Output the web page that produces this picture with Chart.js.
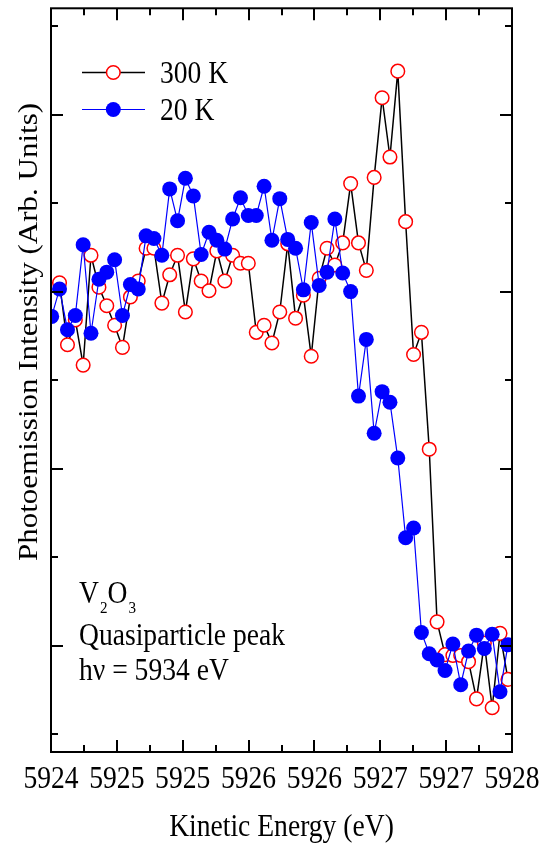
<!DOCTYPE html>
<html><head><meta charset="utf-8">
<script src="https://cdn.jsdelivr.net/npm/chart.js@4.4.1/dist/chart.umd.min.js"></script>
<style>html,body{margin:0;padding:0;background:#fff;overflow:hidden}</style>
</head><body>
<canvas id="c" width="543" height="848"></canvas>
<script>
// ---- data ----
const energy = [
  5924.006, 5924.074, 5924.143, 5924.211, 5924.279, 5924.347, 5924.416, 5924.484, 5924.552, 5924.620,
  5924.689, 5924.757, 5924.825, 5924.893, 5924.962, 5925.030, 5925.098, 5925.166, 5925.235, 5925.303,
  5925.371, 5925.439, 5925.508, 5925.576, 5925.644, 5925.712, 5925.781, 5925.849, 5925.917, 5925.985,
  5926.054, 5926.122, 5926.190, 5926.258, 5926.327, 5926.395, 5926.463, 5926.531, 5926.600, 5926.668,
  5926.736, 5926.804, 5926.873, 5926.941, 5927.009, 5927.077, 5927.146, 5927.214, 5927.282, 5927.350,
  5927.419, 5927.487, 5927.555, 5927.623, 5927.692, 5927.760, 5927.828, 5927.896, 5927.965
];
const intensity300K = [
  null, 5.10, 4.40, 4.68, 4.17, 5.41, 5.05, 4.84, 4.62, 4.37,
  4.94, 5.12, 5.49, 5.49, 4.87, 5.19, 5.41, 4.77, 5.37, 5.12,
  5.01, 5.46, 5.12, 5.41, 5.32, 5.32, 4.54, 4.62, 4.42, 4.77,
  5.54, 4.70, 4.96, 4.27, 5.15, 5.49, 5.30, 5.55, 6.22, 5.55,
  5.24, 6.29, 7.19, 6.52, 7.49, 5.79, 4.29, 4.54, 3.22, 1.27,
  0.90, 0.89, 0.89, 0.82, 0.40, 1.03, 0.30, 1.14, 0.62
];
const intensity20K = [
  4.72, 5.03, 4.57, 4.73, 5.53, 4.53, 5.14, 5.22, 5.36, 4.73,
  5.08, 5.03, 5.63, 5.60, 5.41, 6.16, 5.80, 6.28, 6.08, 5.42,
  5.67, 5.58, 5.48, 5.82, 6.06, 5.86, 5.86, 6.19, 5.58, 6.05,
  5.59, 5.49, 5.02, 5.78, 5.07, 5.22, 5.82, 5.21, 5.00, 3.82,
  4.46, 3.40, 3.87, 3.75, 3.12, 2.22, 2.33, 1.15, 0.91, 0.84,
  0.72, 1.02, 0.56, 0.94, 1.12, 0.97, 1.13, 0.48, 1.01
];
const seriesLabels = ['300 K', '20 K'];
const xTickLabels = ['5924', '5925', '5925', '5926', '5926', '5927', '5927', '5928'];
const yTickValues = [0, 1, 2, 3, 4, 5, 6, 7, 8];
const xTitle = 'Kinetic Energy (eV)';
const yTitle = 'Photoemission Intensity (Arb. Units)';
const sampleName = ['V', '2', 'O', '3'];
const noteLines = ['Quasiparticle peak', 'h\u03BD = 5934 eV'];

// ---- styling ----
const FONT = '"Liberation Serif", "Times New Roman", serif';
const SX = 0.89; // horizontal squeeze of the original figure's text

function txt(ctx, s, x, y, size, align) {
  ctx.save();
  ctx.translate(x, y);
  ctx.scale(SX, 1);
  ctx.font = size + 'px ' + FONT;
  ctx.fillStyle = '#000';
  ctx.textAlign = align || 'left';
  ctx.textBaseline = 'alphabetic';
  ctx.fillText(s, 0, 0);
  const w = ctx.measureText(s).width * SX;
  ctx.restore();
  return w;
}

const frame = {
  id: 'frame',
  afterDraw(chart) {
    const ctx = chart.ctx, a = chart.chartArea;
    const xs = chart.scales.x, ys = chart.scales.y;
    ctx.save();
    ctx.strokeStyle = '#000';
    ctx.lineWidth = 2;
    ctx.strokeRect(a.left, a.top, a.right - a.left, a.bottom - a.top);
    ctx.beginPath();
    const n = xTickLabels.length - 1;
    for (let i = 0; i <= 2 * n; i++) {
      const v = xs.min + i * (xs.max - xs.min) / (2 * n);
      const px = Math.round(xs.getPixelForValue(v));
      const len = i % 2 === 0 ? 12 : 7;
      ctx.moveTo(px, a.bottom); ctx.lineTo(px, a.bottom - len);
      ctx.moveTo(px, a.top); ctx.lineTo(px, a.top + len);
    }
    yTickValues.forEach(v => {
      const py = Math.round(ys.getPixelForValue(v));
      const len = v % 2 === 1 ? 12 : 7;
      ctx.moveTo(a.left, py); ctx.lineTo(a.left + len, py);
      ctx.moveTo(a.right, py); ctx.lineTo(a.right - len, py);
    });
    ctx.stroke();
    ctx.restore();

    // x tick labels
    xTickLabels.forEach((lab, i) => {
      const v = xs.min + i * (xs.max - xs.min) / n;
      txt(ctx, lab, xs.getPixelForValue(v), 788, 31, 'center');
    });
    // axis titles
    txt(ctx, xTitle, (a.left + a.right) / 2, 836, 31, 'center');
    ctx.save();
    ctx.translate(37, 332);
    ctx.rotate(-Math.PI / 2);
    ctx.scale(1, SX);
    ctx.font = '31px ' + FONT;
    ctx.fillStyle = '#000';
    ctx.textAlign = 'center';
    ctx.textBaseline = 'alphabetic';
    ctx.fillText(yTitle, 0, 0);
    ctx.restore();

    // legend
    const legendRows = [72.5, 109.5];
    seriesLabels.forEach((lab, r) => {
      const ds = chart.data.datasets.find(d => d.label === lab);
      const y = legendRows[r];
      ctx.save();
      ctx.strokeStyle = ds.borderColor;
      ctx.lineWidth = ds.borderWidth;
      ctx.beginPath();
      ctx.moveTo(82, y); ctx.lineTo(145, y);
      ctx.stroke();
      ctx.beginPath();
      ctx.arc(113.3, y, ds.pointRadius, 0, Math.PI * 2);
      ctx.fillStyle = ds.pointBackgroundColor;
      ctx.fill();
      if (ds.pointBorderWidth > 0) {
        ctx.strokeStyle = ds.pointBorderColor;
        ctx.lineWidth = ds.pointBorderWidth;
        ctx.stroke();
      }
      ctx.restore();
      txt(ctx, lab, 160, y + 10.5, 31, 'left');
    });

    // sample annotation
    let x = 79;
    x += txt(ctx, sampleName[0], x, 603, 31, 'left');
    x += txt(ctx, sampleName[1], x + 1, 613, 17, 'left') + 1;
    x += txt(ctx, sampleName[2], x, 603, 31, 'left');
    txt(ctx, sampleName[3], x + 1, 613, 17, 'left');
    txt(ctx, noteLines[0], 79, 645, 31, 'left');
    txt(ctx, noteLines[1], 79, 680, 31, 'left');
  }
};

const toPts = arr => energy.map((e, i) => ({ x: e, y: arr[i] }));

new Chart(document.getElementById('c'), {
  type: 'line',
  data: {
    datasets: [
      {
        label: seriesLabels[1],
        data: toPts(intensity20K),
        borderColor: '#0000ff',
        borderWidth: 1.2,
        pointRadius: 7.5,
        pointBackgroundColor: '#0000ff',
        pointBorderColor: '#0000ff',
        pointBorderWidth: 0,
        tension: 0
      },
      {
        label: seriesLabels[0],
        data: toPts(intensity300K),
        borderColor: '#000000',
        borderWidth: 1.5,
        pointRadius: 6.8,
        pointBackgroundColor: '#ffffff',
        pointBorderColor: '#ff0000',
        pointBorderWidth: 1.5,
        tension: 0
      }
    ]
  },
  options: {
    responsive: false,
    animation: false,
    events: [],
    layout: { padding: { left: 51, right: 31, top: 8, bottom: 96 } },
    plugins: { legend: { display: false }, tooltip: { enabled: false } },
    scales: {
      x: { type: 'linear', min: 5924, max: 5928, display: false },
      y: { type: 'linear', min: -0.2, max: 8.2, display: false }
    }
  },
  plugins: [frame]
});
</script>
</body></html>
